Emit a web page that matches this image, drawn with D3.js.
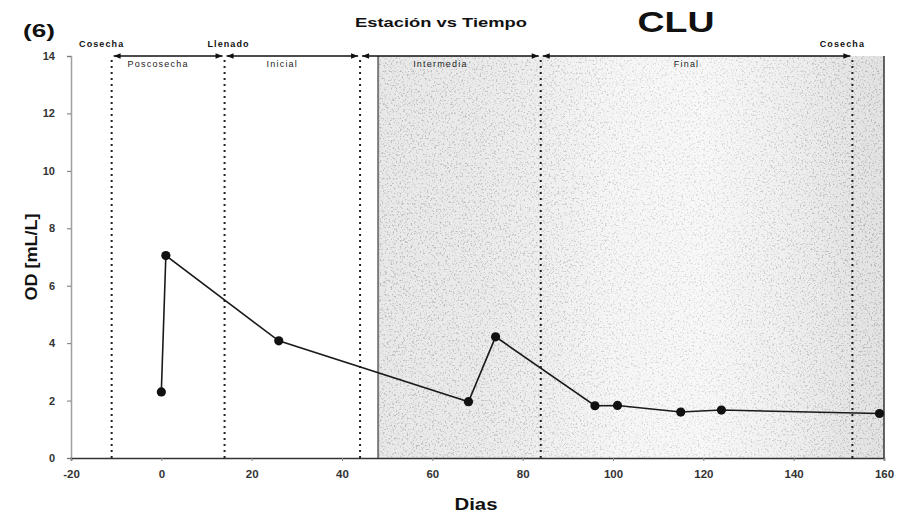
<!DOCTYPE html>
<html>
<head>
<meta charset="utf-8">
<script src="https://cdn.jsdelivr.net/npm/d3@7"></script>
<style>
  html, body { margin: 0; padding: 0; background: #fff; }
  svg { display: block; font-family: "Liberation Sans", Arial, sans-serif; }
</style>
</head>
<body>
<svg id="chart" width="912" height="515"></svg>
<script>
// Dissolved oxygen (OD) measured over the season
const days = [0, 1, 26, 68, 74, 96, 101, 115, 124, 159];
const od   = [2.3, 7.05, 4.08, 1.96, 4.22, 1.82, 1.83, 1.6, 1.67, 1.55];

// Season boundaries (dotted lines) and the phases between them
const boundaries = [-11, 14, 44, 84, 153];
const phaseNames = ["Poscosecha", "Inicial", "Intermedia", "Final"];
const eventNames = ["Cosecha", "Llenado", "Cosecha"];
const eventDays  = [-11, 14, 153];
const shadeFrom = 48;

const xTicks = [-20, 0, 20, 40, 60, 80, 100, 120, 140, 160];
const yTicks = [0, 2, 4, 6, 8, 10, 12, 14];

const svg = d3.select("#chart");
const x = d3.scaleLinear().domain([-20, 160]).range([71, 884]);
const y = d3.scaleLinear().domain([0, 14]).range([458, 56]);

const defs = svg.append("defs");

// Background tone along the Intermedia / Final stretch
const shade = defs.append("linearGradient").attr("id", "shade")
  .attr("gradientUnits", "userSpaceOnUse")
  .attr("x1", x(shadeFrom)).attr("x2", x(160)).attr("y1", 0).attr("y2", 0);
[[48, "#e9e9e9"], [70, "#ebebeb"], [84, "#efefef"], [100, "#f6f6f6"],
 [120, "#f8f8f8"], [138, "#f0f0f0"], [152, "#e6e6e6"], [160, "#e3e3e3"]]
  .forEach(([d, c]) => shade.append("stop")
    .attr("offset", (d - shadeFrom) / (160 - shadeFrom)).attr("stop-color", c));

// Speckle density along the same stretch
const grainMask = defs.append("linearGradient").attr("id", "grainMask")
  .attr("gradientUnits", "userSpaceOnUse")
  .attr("x1", x(shadeFrom)).attr("x2", x(160)).attr("y1", 0).attr("y2", 0);
[[48, 0.85], [84, 0.7], [105, 0.45], [125, 0.45], [145, 0.75], [160, 0.95]]
  .forEach(([d, o]) => grainMask.append("stop")
    .attr("offset", (d - shadeFrom) / (160 - shadeFrom))
    .attr("stop-color", "#000").attr("stop-opacity", o));

const grain = defs.append("filter").attr("id", "grain")
  .attr("x", 0).attr("y", 0).attr("width", "100%").attr("height", "100%");
grain.append("feTurbulence").attr("type", "fractalNoise")
  .attr("baseFrequency", 0.55).attr("numOctaves", 2).attr("seed", 7).attr("result", "n");
grain.append("feColorMatrix").attr("in", "n").attr("type", "matrix")
  .attr("values", "0 0 0 0 0.45  0 0 0 0 0.45  0 0 0 0 0.45  5 0 0 0 -2.7")
  .attr("result", "s");
grain.append("feComposite").attr("in", "s").attr("in2", "SourceGraphic").attr("operator", "in");

// Arrow heads for phase spans
["start", "end"].forEach(k => {
  defs.append("marker").attr("id", "arr-" + k)
    .attr("viewBox", "0 0 10 10").attr("refX", k === "end" ? 10 : 0).attr("refY", 5)
    .attr("markerWidth", 9).attr("markerHeight", 7).attr("markerUnits", "userSpaceOnUse")
    .attr("orient", "auto")
    .append("path")
    .attr("d", k === "end" ? "M0,1 L10,5 L0,9 Z" : "M10,1 L0,5 L10,9 Z")
    .attr("fill", "#111");
});

// Shaded field
svg.append("rect")
  .attr("x", x(shadeFrom)).attr("y", y(14))
  .attr("width", x(160) - x(shadeFrom)).attr("height", y(0) - y(14))
  .attr("fill", "url(#shade)");
svg.append("rect")
  .attr("x", x(shadeFrom)).attr("y", y(14))
  .attr("width", x(160) - x(shadeFrom)).attr("height", y(0) - y(14))
  .attr("fill", "url(#grainMask)")
  .attr("filter", "url(#grain)");

// Left edge of the shaded field and right frame
svg.append("line")
  .attr("x1", x(shadeFrom)).attr("x2", x(shadeFrom))
  .attr("y1", y(14)).attr("y2", y(0))
  .attr("stroke", "#7a7a7a").attr("stroke-width", 2);
svg.append("line")
  .attr("x1", x(160)).attr("x2", x(160))
  .attr("y1", y(14)).attr("y2", y(0))
  .attr("stroke", "#333").attr("stroke-width", 1.5);

// Season boundaries
svg.selectAll(".bound").data(boundaries).join("line")
  .attr("class", "bound")
  .attr("x1", d => x(d)).attr("x2", d => x(d))
  .attr("y1", y(14) + 4).attr("y2", y(0))
  .attr("stroke", "#222").attr("stroke-width", 2)
  .attr("stroke-dasharray", "2,4");

// Axes
const fmt = d => String(d);
const yAxis = d3.axisLeft(y).tickValues(yTicks).tickSize(4).tickPadding(12).tickFormat(fmt);
const gy = svg.append("g").attr("transform", `translate(${x(-20)},0)`).call(yAxis);
gy.select(".domain").attr("stroke", "#a0a0a0").attr("stroke-width", 1.5);
gy.selectAll(".tick line").attr("stroke", "#777");
gy.selectAll(".tick text").attr("font-size", 11).attr("font-weight", "bold")
  .attr("fill", "#333");

const xAxis = d3.axisBottom(x).tickValues(xTicks).tickSize(3).tickPadding(9).tickFormat(fmt);
const gx = svg.append("g").attr("transform", `translate(0,${y(0)})`).call(xAxis);
gx.select(".domain").attr("stroke", "#333").attr("stroke-width", 1.5);
gx.selectAll(".tick line").attr("stroke", "#888");
gx.selectAll(".tick text").attr("font-size", 11.5).attr("font-weight", "bold")
  .attr("fill", "#333");

// Phase spans with double arrows
const spans = d3.pairs(boundaries);
svg.selectAll(".span").data(spans).join("line")
  .attr("class", "span")
  .attr("x1", d => x(d[0]) + 2).attr("x2", d => x(d[1]) - 2)
  .attr("y1", y(14)).attr("y2", y(14))
  .attr("stroke", "#111").attr("stroke-width", 1.4)
  .attr("marker-start", "url(#arr-start)").attr("marker-end", "url(#arr-end)");

svg.selectAll(".phase").data(spans).join("text")
  .attr("class", "phase")
  .attr("x", d => x((d[0] + d[1]) / 2) - 10).attr("y", y(14) + 11)
  .attr("text-anchor", "middle").attr("font-size", 9)
  .attr("letter-spacing", 1.2).attr("fill", "#222")
  .text((d, i) => phaseNames[i]);

svg.selectAll(".event").data(eventDays).join("text")
  .attr("class", "event")
  .attr("x", (d, i) => x(d) + (i === 1 ? 4 : -10)).attr("y", 47)
  .attr("text-anchor", "middle").attr("font-size", 9).attr("font-weight", "bold")
  .attr("letter-spacing", 1.1).attr("fill", "#111")
  .text((d, i) => eventNames[i]);

// Series
const pts = days.map((d, i) => [d, od[i]]);
svg.append("path").datum(pts)
  .attr("d", d3.line().x(d => x(d[0])).y(d => y(d[1])))
  .attr("fill", "none").attr("stroke", "#1a1a1a").attr("stroke-width", 1.6);
svg.selectAll(".pt").data(pts).join("circle")
  .attr("class", "pt")
  .attr("cx", d => x(d[0])).attr("cy", d => y(d[1])).attr("r", 4.6)
  .attr("fill", "#111");

// Titles
svg.append("text").attr("x", 23).attr("y", 37)
  .attr("font-size", 19).attr("font-weight", "bold").attr("fill", "#111")
  .attr("textLength", 32).attr("lengthAdjust", "spacingAndGlyphs").text("(6)");
svg.append("text").attr("x", 441).attr("y", 27)
  .attr("text-anchor", "middle").attr("font-size", 13.5).attr("font-weight", "bold")
  .attr("fill", "#111").attr("textLength", 172).attr("lengthAdjust", "spacingAndGlyphs")
  .text("Estación vs Tiempo");
svg.append("text").attr("x", 676).attr("y", 32)
  .attr("text-anchor", "middle").attr("font-size", 30).attr("font-weight", "bold")
  .attr("fill", "#111").attr("textLength", 77).attr("lengthAdjust", "spacingAndGlyphs")
  .text("CLU");
svg.append("text").attr("x", 476).attr("y", 510)
  .attr("text-anchor", "middle").attr("font-size", 17).attr("font-weight", "bold")
  .attr("fill", "#111").attr("textLength", 43).attr("lengthAdjust", "spacingAndGlyphs")
  .text("Dias");
svg.append("text")
  .attr("transform", "translate(37,257) rotate(-90)")
  .attr("text-anchor", "middle").attr("font-size", 16).attr("font-weight", "bold")
  .attr("fill", "#111").attr("textLength", 87).attr("lengthAdjust", "spacingAndGlyphs")
  .text("OD [mL/L]");
</script>
</body>
</html>
